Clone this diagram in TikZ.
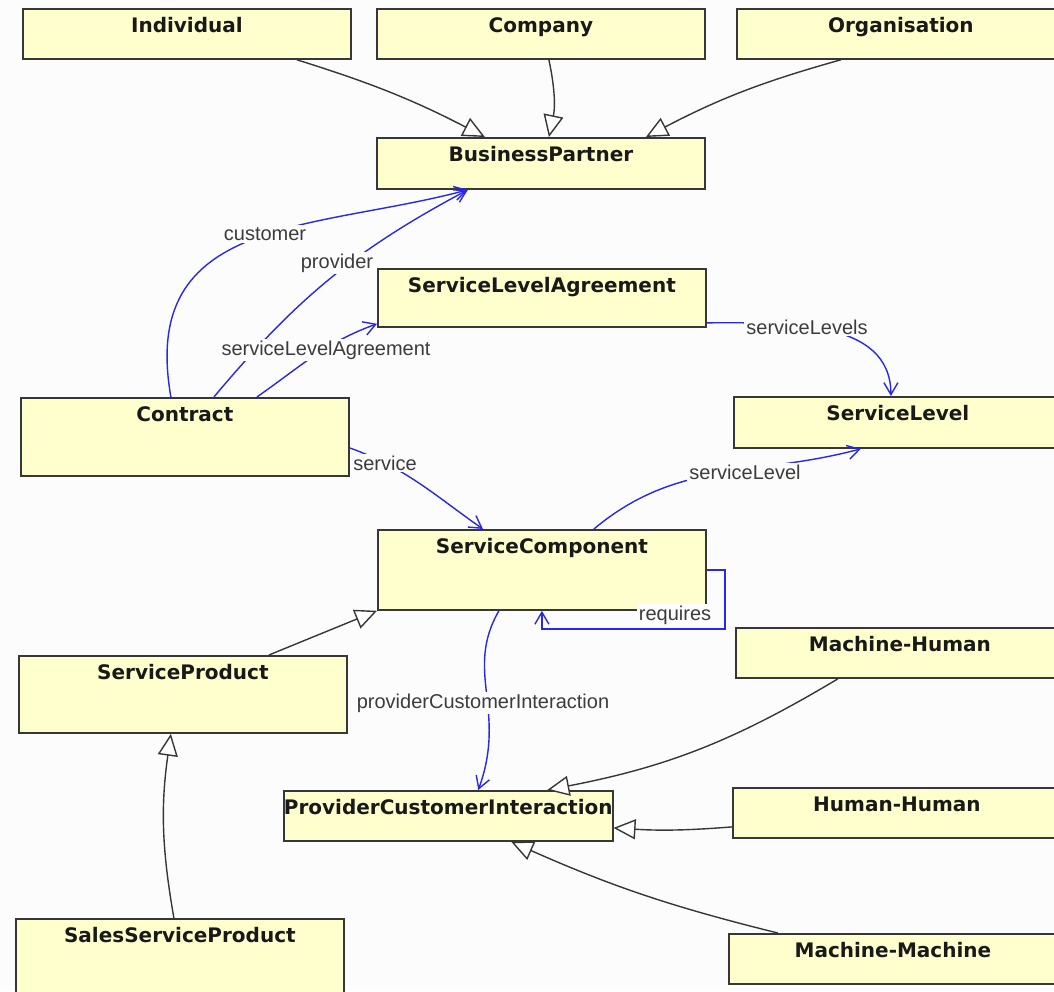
\documentclass[tikz,border=0pt]{standalone}
\usepackage{fontspec}
\setmainfont{Liberation Sans}
\newfontfamily\clsfont{DejaVu Sans}
\usetikzlibrary{arrows.meta}

\definecolor{classbg}{RGB}{255,255,206}
\definecolor{boxline}{RGB}{55,55,55}
\definecolor{assocblue}{RGB}{40,40,235}
\definecolor{lblgray}{RGB}{60,60,60}
\definecolor{pagebg}{RGB}{252,252,252}

\tikzset{
  cls/.style={draw=boxline, fill=classbg, line width=0.9pt, anchor=north west,
    minimum width=164pt, inner xsep=0pt, inner ysep=2pt, text height=9.6pt,
    text depth=#1, text=black!90, font=\clsfont\bfseries},
  cls/.default=11.4pt,
  gen/.style={draw=boxline, line width=0.7pt,
    -{Triangle[length=11pt, width=10pt, fill=white]}},
  assoc/.style={draw=assocblue, line width=0.7pt,
    -{Straight Barb[length=6pt, width=7pt]}},
  role/.style={fill=pagebg, inner sep=1pt, text=lblgray},
}

\begin{document}
\begin{tikzpicture}[x=0.5pt, y=0.5pt]
  \useasboundingbox (0,0) rectangle (1054,-991);
  \fill[pagebg] (0,0) rectangle (1054,-991);
  \clip (0,0) rectangle (1054,-991);

  % classes
  \node[cls] (indiv) at (22,-8) {Individual};
  \node[cls] (company) at (376,-8) {Company};
  \node[cls] (orga) at (736,-8) {Organisation};
  \node[cls=11.9pt] (bp) at (376,-137) {BusinessPartner};
  \node[cls=15.4pt] (sla) at (377,-268) {ServiceLevelAgreement};
  \node[cls=25.4pt] (contract) at (20,-397) {Contract};
  \node[cls=11.9pt] (slevel) at (733,-396) {ServiceLevel};
  \node[cls=26.4pt] (scomp) at (377,-529) {ServiceComponent};
  \node[cls=24.9pt] (sprod) at (18,-655) {ServiceProduct};
  \node[cls] (mh) at (735,-627) {Machine-Human};
  \node[cls] (pci) at (283,-790) {ProviderCustomerInteraction};
  \node[cls] (hh) at (732,-787) {Human-Human};
  \node[cls=26.4pt] (ssp) at (15,-918) {SalesServiceProduct};
  \node[cls] (mm) at (728,-933) {Machine-Machine};

  % generalisations
  \draw[gen] ([xshift=55pt]indiv.south) to[bend left=5] ([xshift=-28pt]bp.north);
  \draw[gen] ([xshift=4pt]company.south) to[bend left=12] ([xshift=4pt]bp.north);
  \draw[gen] ([xshift=-30pt]orga.south) to[bend right=6] ([xshift=52.5pt]bp.north);
  \draw[gen] ([xshift=43pt]sprod.north) -- (scomp.south west);
  \draw[gen] ([xshift=-3pt]ssp.north) to[bend left=9] ([xshift=-6pt]sprod.south);
  \draw[gen] ([xshift=-31pt]mh.south) to[bend left=10] ([xshift=49.5pt]pci.north);
  \draw[gen] ([yshift=-7pt]hh.west) to[bend left=4] ([yshift=-6pt]pci.east);
  \draw[gen] ([xshift=-57.5pt]mm.north) to[bend left=5] ([xshift=31.5pt]pci.south);

  % associations
  \draw[assoc] ([xshift=-7pt]contract.north) .. controls +(100:185) and +(195:160) .. ([xshift=-36.5pt]bp.south);
  \draw[assoc] ([xshift=14.5pt]contract.north) to[out=50, in=208] ([xshift=-36.5pt]bp.south);
  \draw[assoc] ([xshift=36pt]contract.north) to[out=35, in=200] ([yshift=2pt]sla.south west);
  \draw[assoc] ([yshift=2.5pt]sla.south east) to[out=0, in=90] ([xshift=-3.5pt]slevel.north);
  \draw[assoc] ([yshift=-5.5pt]contract.east) to[out=-20, in=145] ([xshift=-29.5pt]scomp.north);
  \draw[assoc] ([xshift=26pt]scomp.north) to[out=40, in=195] ([xshift=-18.5pt]slevel.south);
  \draw[assoc] (scomp.east) -- ++(18,0) |- ([yshift=-9pt]scomp.south) -- (scomp.south);
  \draw[assoc] ([xshift=-21.5pt]scomp.south) .. controls +(-120:70) and +(70:85) .. ([xshift=15pt]pci.north);

  % role names
  \node[role] (lcust) at (265,-234) {customer};
  \node[role] (lprov) at (337,-263) {provider};
  \node[role] (lsla) at (326,-350) {serviceLevelAgreement};
  \node[role] (lsls) at (807,-327) {serviceLevels};
  \node[role] (lserv) at (385,-463) {service};
  \node[role] (lsl) at (745,-472) {serviceLevel};
  \node[role] (lreq) at (675,-615) {requires};
  \node[role] (lpci) at (483,-703) {providerCustomerInteraction};
\end{tikzpicture}
\end{document}
